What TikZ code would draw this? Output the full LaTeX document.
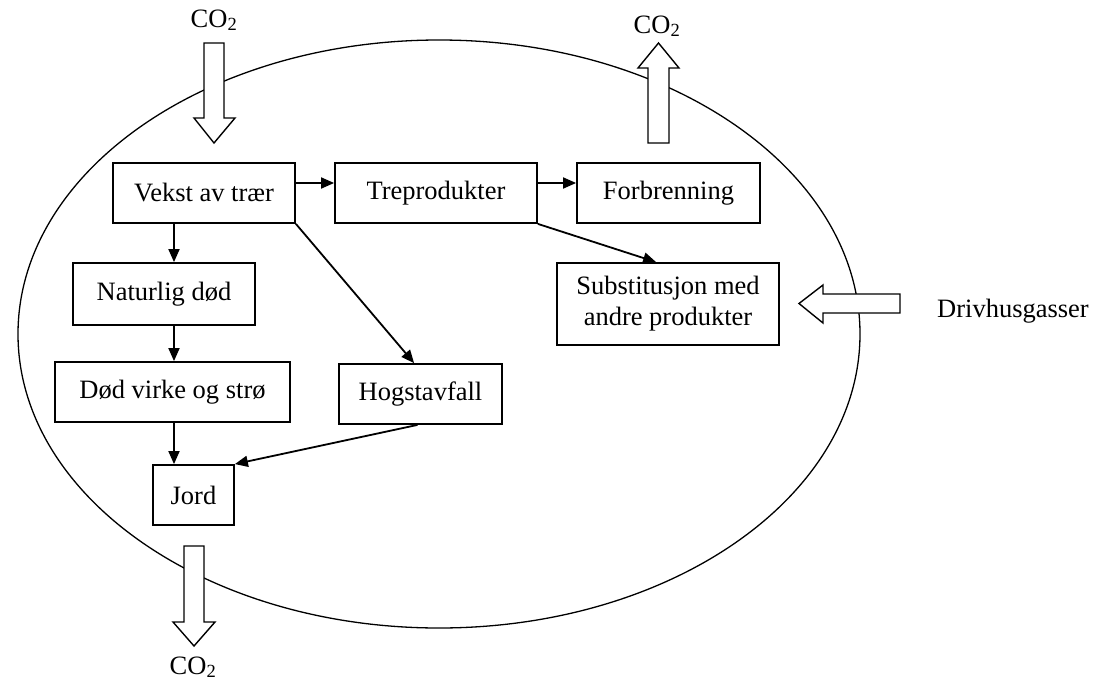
\documentclass[tikz,border=0pt]{standalone}
\usepackage{fontspec}
\setmainfont{Liberation Serif}
\usetikzlibrary{arrows.meta,calc}
\begin{document}
\begin{tikzpicture}[x=1pt,y=-1pt,
  every node/.style={font=\fontsize{26.5}{31}\selectfont},
  box/.style={draw,line width=1.8pt,inner sep=0pt,align=center},
  arr/.style={line width=1.8pt,-{Triangle[length=13pt,width=11pt]}},
  hollow/.style={draw,line width=1.4pt,fill=white,line join=miter},
  lbl/.style={inner sep=0pt,anchor=base}]
\useasboundingbox (0,0) rectangle (1096,683);
\draw[line width=1.3pt] (439,334) ellipse [x radius=421pt, y radius=294pt];

\node[box,minimum width=182pt,minimum height=60pt] (vekst) at (204,193) {Vekst av trær};
\node[box,minimum width=202pt,minimum height=60pt] (trepr) at (436,193) {Treprodukter};
\node[box,minimum width=183pt,minimum height=60pt] (forbr) at (668.5,193) {Forbrenning};
\node[box,minimum width=222pt,minimum height=82pt] (subst) at (668,304) {Substitusjon med\\andre produkter};
\node[box,minimum width=182pt,minimum height=62pt] (natur) at (164,294) {Naturlig død};
\node[box,minimum width=235pt,minimum height=60pt] (dodv) at (172.5,392) {Død virke og strø};
\node[box,minimum width=163pt,minimum height=60pt] (hogst) at (420.5,394) {Hogstavfall};
\node[box,minimum width=81pt,minimum height=60pt] (jord) at (193.5,495) {Jord};

\coordinate (col) at (174,0);
\coordinate (row) at (0,183);
\draw[arr] (vekst.south -| col) -- (natur.north -| col);
\draw[arr] (natur.south -| col) -- (dodv.north -| col);
\draw[arr] (dodv.south -| col) -- (jord.north -| col);
\draw[arr] (vekst.east |- row) -- (trepr.west |- row);
\draw[arr] (trepr.east |- row) -- (forbr.west |- row);
\draw[arr] (vekst.south east) -- ($(hogst.north west)+(76,0)$);
\draw[arr] (trepr.south east) -- ($(subst.north west)+(100,0)$);
\draw[arr] ($(hogst.south)+(-3,0)$) -- (jord.north east);

% hollow arrows
\draw[hollow] (204,43) -- (224,43) -- (224,118) -- (235,118) -- (214,143) -- (194,118) -- (204,118) -- cycle;
\draw[hollow] (648,143) -- (669,143) -- (669,68) -- (679,68) -- (658.5,43) -- (638,68) -- (648,68) -- cycle;
\draw[hollow] (184,546) -- (204,546) -- (204,622) -- (215,622) -- (194,646) -- (173,622) -- (184,622) -- cycle;
\draw[hollow] (900,294) -- (823,294) -- (823,285) -- (799,303.5) -- (823,323) -- (823,313) -- (900,313) -- cycle;

\node[lbl] (co2a) at (214,27) {CO\textsubscript{2}};
\node[lbl] (co2b) at (657,33) {CO\textsubscript{2}};
\node[lbl] (co2c) at (193,674) {CO\textsubscript{2}};
\node[lbl,anchor=base west] (drivhus) at (937,317) {Drivhusgasser};
\end{tikzpicture}
\end{document}
